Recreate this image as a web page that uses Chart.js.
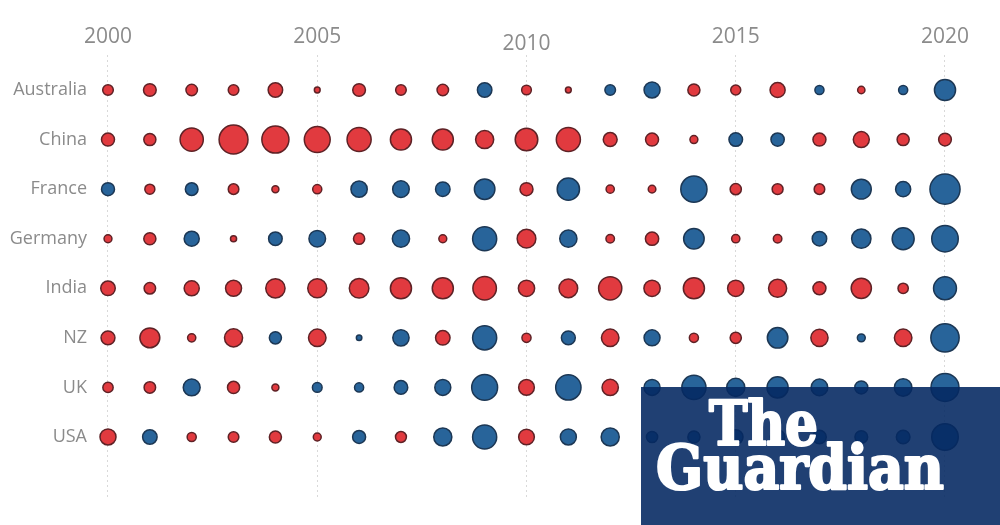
<!DOCTYPE html>
<html><head><meta charset="utf-8">
<script src="https://cdn.jsdelivr.net/npm/chart.js@4.4.1/dist/chart.umd.min.js"></script>
<style>html,body{margin:0;padding:0;background:#fff;}#wrap{width:1000px;height:525px;position:relative;}</style>
</head><body><div id="wrap"><canvas id="c" width="1000" height="525"></canvas></div>
<script>
// ---- data ----
const years = [2000,2001,2002,2003,2004,2005,2006,2007,2008,2009,2010,2011,2012,2013,2014,2015,2016,2017,2018,2019,2020];
const countries = ['Australia','China','France','Germany','India','NZ','UK','USA'];
const yearTicks = [2000,2005,2010,2015,2020];
// signed values: negative = red, positive = blue; magnitude = bubble size
const australia = [-4.0,-4.7,-4.3,-4.0,-5.3,-2.4,-4.7,-4.0,-4.3,5.3,-3.7,-2.4,4.0,5.8,-4.5,-3.8,-5.5,3.5,-2.9,3.5,7.5];
const china     = [-4.8,-4.5,-8.2,-10.1,-9.5,-9.1,-8.5,-7.5,-7.5,-6.5,-8.0,-8.5,-5.1,-4.8,-3.1,5.0,4.9,-4.8,-5.8,-4.5,-4.7];
const france    = [4.8,-3.8,4.7,-4.0,-2.8,-3.5,5.9,6.0,5.3,7.3,-4.8,7.9,-3.2,-3.0,9.2,-4.2,-4.1,-4.0,7.1,5.5,10.5];
const germany   = [-3.1,-4.5,5.5,-2.5,5.0,6.0,-4.2,6.2,-3.1,8.5,-6.7,6.2,-3.3,-4.9,7.3,-3.2,-3.3,5.3,6.9,7.8,9.3];
const india     = [-5.3,-4.3,-5.5,-5.8,-6.9,-6.8,-7.0,-7.5,-7.5,-8.3,-5.9,-6.7,-8.2,-5.9,-7.5,-5.9,-6.5,-4.8,-7.2,-3.9,8.1];
const nz        = [-5.1,-7.1,-3.2,-6.5,4.5,-6.3,2.3,5.9,-5.3,8.5,-3.5,5.1,-6.3,5.8,-3.5,-4.2,7.3,-6.2,3.1,-6.3,9.9];
const uk        = [-3.9,-4.3,6.1,-4.5,-2.8,3.7,3.5,5.0,5.8,9.1,-5.7,8.9,-5.9,5.8,8.5,6.5,7.5,6.0,4.8,6.3,9.8];
const usa       = [-5.8,5.3,-3.5,-4.0,-4.5,-3.1,4.8,-4.1,6.5,8.5,-5.7,5.8,6.5,4.2,4.5,5.3,5.3,5.0,4.7,5.0,9.3];
const series = [australia,china,france,germany,india,nz,uk,usa];

// ---- styles ----
const RED = '#e13a3f', RED_BORDER = '#5e2226';
const BLUE = '#28649a', BLUE_BORDER = '#1c3754';
const LABEL_GREY = '#8b8b8b';
const radiusFor = v => Math.max(1.5, 1.5 * Math.abs(v) - 0.7);

const datasets = series.map((vals, ci) => ({
  label: countries[ci],
  data: vals.map((v, i) => ({ x: years[i], y: ci, r: radiusFor(v), v: v })),
  backgroundColor: ctx => (ctx.raw && ctx.raw.v < 0) ? RED : BLUE,
  borderColor: ctx => (ctx.raw && ctx.raw.v < 0) ? RED_BORDER : BLUE_BORDER,
  borderWidth: 1.5,
  clip: false
}));

const yearLabels = {
  id: 'yearLabels',
  afterDraw(chart) {
    const ctx = chart.ctx, xs = chart.scales.x;
    const baselines = [43, 43, 50, 43, 43];
    ctx.save();
    ctx.font = '21px "Open Sans"';
    ctx.fillStyle = LABEL_GREY;
    ctx.textAlign = 'center';
    ctx.textBaseline = 'alphabetic';
    yearTicks.forEach((yr, i) => ctx.fillText(String(yr), xs.getPixelForValue(yr), baselines[i]));
    ctx.restore();
  }
};

const logo = {
  id: 'logo',
  afterDatasetsDraw(chart) {
    const ctx = chart.ctx;
    ctx.save();
    ctx.fillStyle = 'rgba(5,41,98,0.89)';
    ctx.fillRect(641, 387, 359, 138);
    ctx.fillStyle = '#ffffff';
    ctx.strokeStyle = '#ffffff';
    ctx.lineJoin = 'round';
    ctx.textBaseline = 'alphabetic';
    ctx.font = 'bold 61px "DejaVu Serif Condensed", "DejaVu Serif"';
    const drawFit = (t, x, y, w) => {
      const m = ctx.measureText(t).width;
      ctx.save(); ctx.translate(x, y); ctx.scale(w / m, 1);
      ctx.lineWidth = 2.2; ctx.strokeText(t, 0, 0); ctx.fillText(t, 0, 0);
      ctx.restore();
    };
    drawFit('The', 709, 445, 109);
    drawFit('Guardian', 656, 489, 288);
    ctx.restore();
  }
};

new Chart(document.getElementById('c'), {
  type: 'bubble',
  data: { datasets },
  options: {
    responsive: false,
    animation: false,
    layout: { padding: { left: 0, right: 34, top: 55, bottom: 25 } },
    plugins: { legend: { display: false }, tooltip: { enabled: false } },
    scales: {
      x: {
        type: 'linear', position: 'top', min: 1999.6894, max: 2020.5018,
        afterBuildTicks: s => { s.ticks = yearTicks.map(v => ({ value: v })); },
        ticks: { display: false },
        grid: { color: '#d9d9d9', lineWidth: 1, drawTicks: false },
        border: { display: false, dash: [2, 3] }
      },
      y: {
        type: 'linear', reverse: true, min: -0.706, max: 8.271,
        afterBuildTicks: s => { s.ticks = countries.map((c, i) => ({ value: i })); },
        afterFit: s => { s.width = 95; },
        ticks: {
          callback: v => countries[v] || '',
          font: { family: '"Open Sans"', size: 18 },
          color: LABEL_GREY, padding: 8
        },
        grid: { display: false, drawTicks: false },
        border: { display: false }
      }
    }
  },
  plugins: [yearLabels, logo]
});
</script></body></html>
